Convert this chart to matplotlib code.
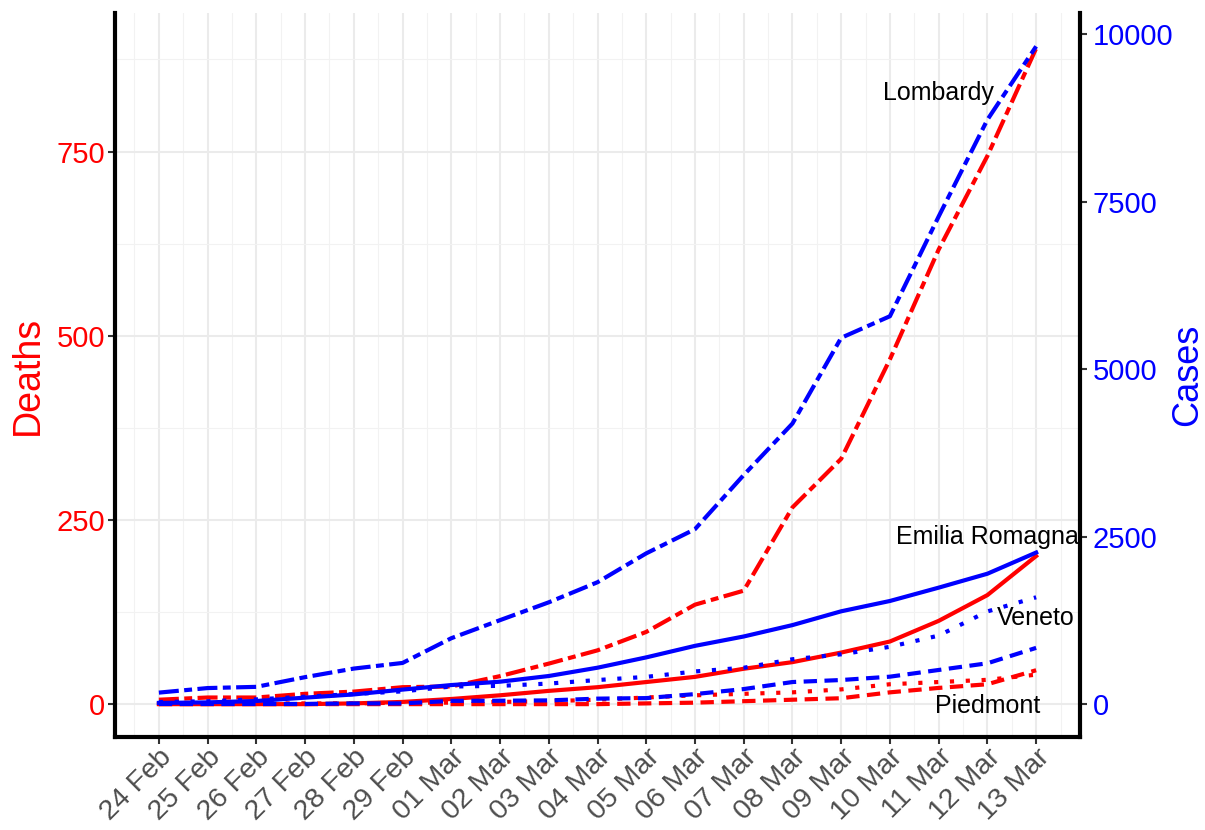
import matplotlib
matplotlib.use("Agg")
import matplotlib.pyplot as plt
import numpy as np

plt.rcParams['font.family'] = ['Liberation Sans', 'DejaVu Sans']

dates = ["24 Feb", "25 Feb", "26 Feb", "27 Feb", "28 Feb", "29 Feb",
         "01 Mar", "02 Mar", "03 Mar", "04 Mar", "05 Mar", "06 Mar", "07 Mar",
         "08 Mar", "09 Mar", "10 Mar", "11 Mar", "12 Mar", "13 Mar"]

# Deaths (left axis, red)
deaths_lombardy = [6, 9, 9, 14, 17, 23, 24, 38, 55, 73, 98, 135, 154, 267, 333, 468, 617, 744, 890]
deaths_emilia = [0, 0, 0, 0, 1, 3, 7, 12, 18, 23, 30, 37, 48, 57, 70, 85, 113, 148, 201]
deaths_veneto = [1, 1, 1, 1, 1, 2, 2, 3, 4, 6, 9, 12, 14, 16, 20, 27, 30, 33, 40]
deaths_piedmont = [0, 0, 0, 0, 0, 0, 0, 0, 0, 0, 1, 2, 4, 6, 8, 16, 22, 27, 46]

# Cases (right axis, blue)
cases_lombardy = [172, 240, 258, 403, 531, 615, 984, 1254, 1520, 1820, 2251, 2612, 3420, 4189, 5469, 5791, 7280, 8725, 9820]
cases_emilia = [18, 26, 47, 97, 145, 217, 285, 335, 420, 544, 698, 870, 1010, 1180, 1386, 1540, 1739, 1947, 2263]
cases_veneto = [32, 43, 71, 111, 151, 191, 263, 273, 307, 360, 407, 488, 543, 670, 744, 856, 1023, 1384, 1595]
cases_piedmont = [3, 3, 3, 3, 11, 11, 49, 51, 56, 82, 90, 150, 225, 330, 360, 410, 510, 610, 840]

regions = ["Lombardy", "Emilia Romagna", "Veneto", "Piedmont"]
deaths = [deaths_lombardy, deaths_emilia, deaths_veneto, deaths_piedmont]
cases = [cases_lombardy, cases_emilia, cases_veneto, cases_piedmont]

death_ticks = [0, 250, 500, 750]
case_ticks = [0, 2500, 5000, 7500, 10000]
ratio = 11

styles = {
    "Lombardy": (0, (4.8, 1.3, 1.9, 1.3)),
    "Emilia Romagna": "solid",
    "Veneto": (0, (1.0, 2.8)),
    "Piedmont": (0, (3.2, 1.8)),
}

RED = "#FF0000"
BLUE = "#0000FF"

fig = plt.figure(figsize=(12.05, 8.30), dpi=100)
ax = fig.add_axes([115/1205, 1-737/830, (1080-115)/1205, (737-13)/830])
ax2 = ax.twinx()

x = np.arange(len(dates))
lw = 3.0
for reg, d in zip(regions, deaths):
    ax.plot(x, d, color=RED, lw=lw, ls=styles[reg], dash_capstyle='butt', zorder=3)
for reg, c in zip(regions, cases):
    ax2.plot(x, c, color=BLUE, lw=lw, ls=styles[reg], dash_capstyle='butt', zorder=3)

ylo, yhi = -44.6, 938
ax.set_ylim(ylo, yhi)
ax2.set_ylim(ylo*ratio, yhi*ratio)
ax.set_xlim(-0.9, len(dates)-1+0.9)

# grid
for xi in x:
    ax.axvline(xi, color="#EBEBEB", lw=1.5, zorder=0)
for xi in np.arange(-0.5, len(dates)+0.5, 1.0):
    ax.axvline(xi, color="#F2F2F2", lw=0.8, zorder=0)
for yv in death_ticks:
    ax.axhline(yv, color="#EBEBEB", lw=1.5, zorder=0)
for yv in [125, 375, 625, 875]:
    ax.axhline(yv, color="#F2F2F2", lw=0.8, zorder=0)

ax.set_xticks(x)
ax.set_xticklabels(dates, rotation=45, ha='right', va='top', rotation_mode='anchor',
                   color="#4D4D4D", fontsize=20.5)
ax.set_yticks(death_ticks)
ax.set_yticklabels([str(v) for v in death_ticks], color=RED, fontsize=21)
ax2.set_yticks(case_ticks)
ax2.set_yticklabels([str(v) for v in case_ticks], color=BLUE, fontsize=21)

ax.tick_params(axis='x', length=5, width=1.5, color="#333333", pad=0)
ax.tick_params(axis='y', length=5, width=1.5, color="#333333", pad=2)
ax2.tick_params(axis='y', length=5, width=1.5, color="#333333", pad=4)

ax.set_ylabel("Deaths", color=RED, fontsize=27, labelpad=8)
ax2.set_ylabel("Cases", color=BLUE, fontsize=26, labelpad=-2)

for a in (ax, ax2):
    a.spines['top'].set_visible(False)
    for s in ('left', 'right', 'bottom'):
        a.spines[s].set_linewidth(3.0)
        a.spines[s].set_color('black')
ax.spines['right'].set_visible(False)
ax2.spines['left'].set_visible(False)
ax2.spines['bottom'].set_visible(False)

# region labels
fs = 18
ax.text(16, 829, "Lombardy", ha='center', va='center', fontsize=fs, color='black', zorder=5)
ax.text(17, 227, "Emilia Romagna", ha='center', va='center', fontsize=fs, color='black', zorder=5)
ax.text(18, 117, "Veneto", ha='center', va='center', fontsize=fs, color='black', zorder=5)
ax.text(17, -2, "Piedmont", ha='center', va='center', fontsize=fs, color='black', zorder=5)

fig.savefig("out.png", dpi=100)
